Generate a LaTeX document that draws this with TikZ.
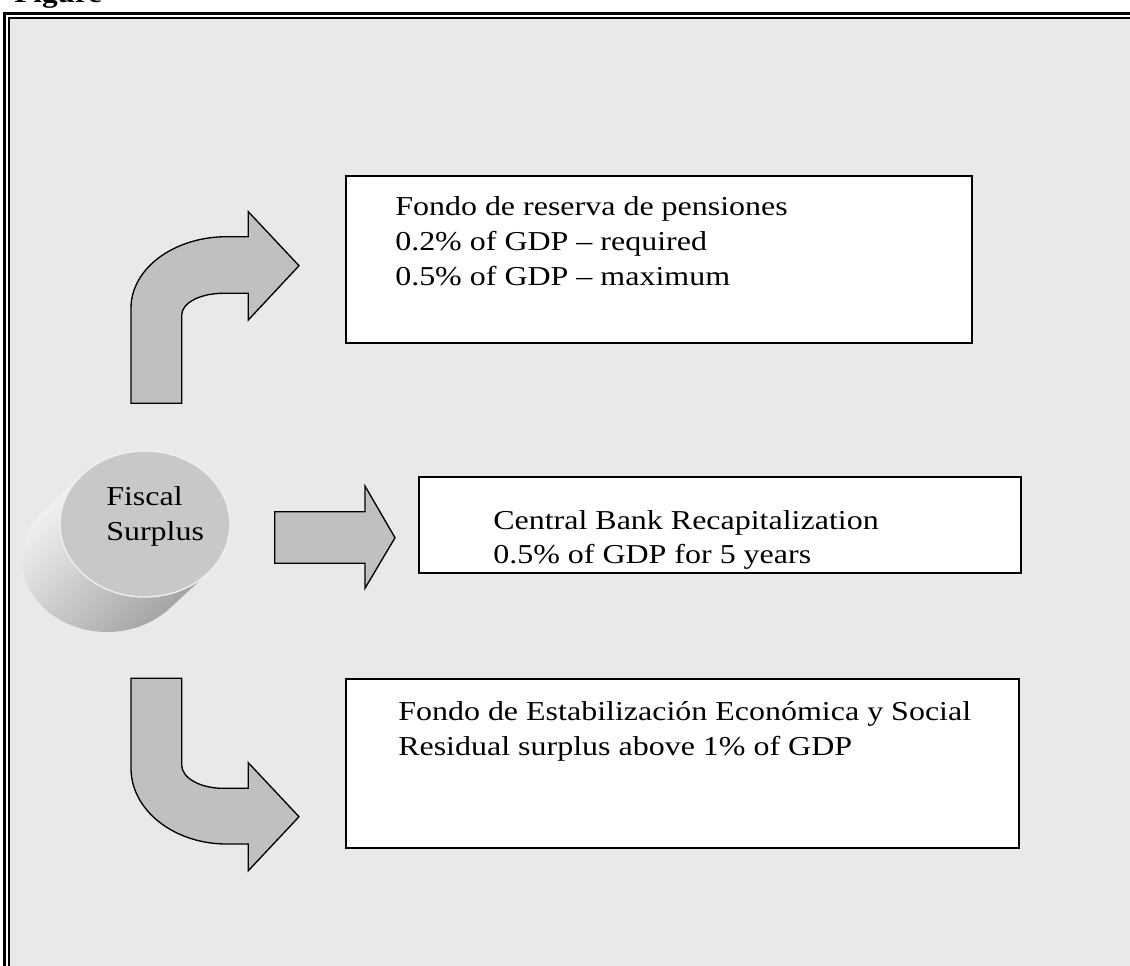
\documentclass[tikz,border=0pt]{standalone}
\usepackage{fontspec}
\setmainfont{Liberation Serif}[FakeStretch=1.17]
\definecolor{framegray}{RGB}{233,233,233}
\definecolor{arrowgray}{RGB}{192,192,192}
\definecolor{facegray}{RGB}{200,200,200}
\begin{document}
\begin{tikzpicture}[x=0.75pt,y=0.75pt,
  box/.style={draw=black,line width=1.3pt,fill=white,anchor=north west,inner sep=0pt},
  blockarrow/.style={draw=black,line width=1pt,fill=arrowgray,line join=miter},
  txt/.style={anchor=base west,inner sep=0pt,font=\fontsize{20.5}{26}\selectfont}]
\useasboundingbox (0,0) rectangle (1130,-965);
\clip (0,0) rectangle (1130,-965);
% frame
\fill[framegray] (9,-18) rectangle (1140,-975);
\draw[line width=2.5pt] (4.3,-975) -- (4.3,-13.3) -- (1140,-13.3);
\draw[line width=1.5pt] (9,-975) -- (9,-18) -- (1140,-18);
\node[anchor=base west,inner sep=0pt,font=\bfseries\fontsize{20}{24}\selectfont] (fig) at (14,-2) {Figure};
% boxes
\node[box,minimum width=469.5pt,minimum height=125.25pt] (b1) at (345,-175) {};
\node[box,minimum width=451.5pt,minimum height=72pt] (b2) at (418,-476) {};
\node[box,minimum width=504.75pt,minimum height=126.75pt] (b3) at (345,-678) {};
% texts
\node[txt] (t1a) at (395,-215) {Fondo de reserva de pensiones};
\node[txt] (t1b) at (395,-250) {0.2\% of GDP – required};
\node[txt] (t1c) at (395,-285) {0.5\% of GDP – maximum};
\node[txt] (t2a) at (493,-529) {Central Bank Recapitalization};
\node[txt] (t2b) at (493,-563) {0.5\% of GDP for 5 years};
\node[txt] (t3a) at (398,-720) {Fondo de Estabilización Económica y Social};
\node[txt] (t3b) at (398,-755) {Residual surplus above 1\% of GDP};
% block arrows
\draw[blockarrow] (131,-403.3) -- (131,-308)
  arc[start angle=180,end angle=90,x radius=95.7,y radius=71.3]
  -- (248.3,-236.7) -- (248.3,-211.7) -- (299,-265.7) -- (248.3,-320) -- (248.3,-293.3) -- (223,-293.3)
  arc[start angle=90,end angle=180,x radius=41.3,y radius=21.7]
  -- (181.7,-403.3) -- cycle;
\draw[blockarrow] (274.7,-511.7) -- (365,-511.7) -- (365,-486) -- (395,-537.7) -- (365,-588.3) -- (365,-563.3) -- (274.7,-563.3) -- cycle;
\draw[blockarrow] (131,-678.3) -- (131,-768.3)
  arc[start angle=180,end angle=270,x radius=95.7,y radius=75.7]
  -- (248.3,-844) -- (248.3,-870.7) -- (299,-816.7) -- (248.3,-762.7) -- (248.3,-788.3) -- (223,-788.3)
  arc[start angle=270,end angle=180,x radius=41.3,y radius=23.3]
  -- (181.7,-678.3) -- cycle;
% cylinder
\shade[top color=gray!8,bottom color=gray!75,shading angle=45]
  (82.8,-474.2) -- (44.8,-509.2)
  arc[start angle=137,end angle=317,x radius=85,y radius=73]
  -- (207.2,-573.8) -- cycle;
\fill[facegray] (145,-524) ellipse [x radius=85,y radius=73];
\draw[gray!12,line width=1pt] (145,-524) ellipse [x radius=85,y radius=73];
\node[txt] (c1) at (106,-505) {Fiscal};
\node[txt] (c2) at (106,-540) {Surplus};
\end{tikzpicture}
\end{document}
